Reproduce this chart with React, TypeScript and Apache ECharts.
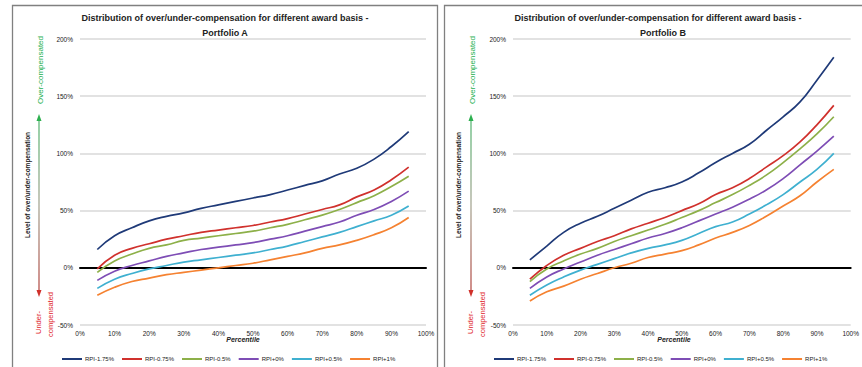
import React, { useEffect, useRef } from "react";
import * as echarts from "echarts";

const percentiles = [5, 10, 15, 20, 25, 30, 35, 40, 45, 50, 55, 60, 65, 70, 75, 80, 85, 90, 95];
const seriesNames = ["RPI-1.75%", "RPI-0.75%", "RPI-0.5%", "RPI+0%", "RPI+0.5%", "RPI+1%"];
const seriesColors = ["#1F3A78", "#D0312D", "#8DB049", "#7E4DB5", "#3FB0D0", "#F58231"];
const xTickValues = [0, 10, 20, 30, 40, 50, 60, 70, 80, 90, 100];
const yTickValues = [-50, 0, 50, 100, 150, 200];

// Portfolio A
const a_rpiM175 = [16, 28, 35, 41, 45, 48, 52, 55, 58, 61, 64, 68, 72, 76, 82, 87, 95, 106, 119];
const a_rpiM075 = [-1, 11, 17, 21, 25, 28, 31, 33, 35, 37, 40, 43, 47, 51, 55, 62, 68, 77, 88];
const a_rpiM05 = [-4, 6, 12, 17, 20, 24, 26, 28, 30, 32, 35, 38, 42, 46, 51, 57, 63, 71, 80];
const a_rpi0 = [-11, -3, 2, 6, 10, 13, 16, 18, 20, 22, 25, 28, 32, 36, 40, 46, 51, 58, 67];
const a_rpiP05 = [-18, -10, -5, -1, 2, 5, 7, 9, 11, 13, 16, 19, 23, 27, 31, 36, 41, 46, 54];
const a_rpiP1 = [-24, -17, -12, -9, -6, -4, -2, 0, 2, 4, 7, 10, 13, 17, 20, 24, 29, 35, 44];

// Portfolio B
const b_rpiM175 = [7, 19, 31, 39, 45, 52, 59, 66, 70, 75, 83, 92, 100, 108, 120, 132, 145, 164, 184];
const b_rpiM075 = [-10, 2, 11, 17, 23, 28, 34, 39, 44, 50, 56, 64, 70, 78, 88, 98, 110, 125, 142];
const b_rpiM05 = [-12, -1, 6, 12, 17, 23, 28, 33, 38, 44, 50, 57, 64, 72, 81, 92, 104, 117, 132];
const b_rpi0 = [-18, -8, -1, 5, 11, 16, 21, 26, 30, 35, 41, 47, 53, 60, 68, 78, 90, 102, 115];
const b_rpiP05 = [-24, -15, -8, -2, 3, 8, 13, 17, 20, 24, 30, 36, 40, 47, 55, 64, 75, 86, 100];
const b_rpiP1 = [-29, -21, -16, -10, -5, 0, 4, 9, 12, 15, 20, 26, 31, 37, 45, 54, 63, 75, 86];

const portfolioA = [a_rpiM175, a_rpiM075, a_rpiM05, a_rpi0, a_rpiP05, a_rpiP1];
const portfolioB = [b_rpiM175, b_rpiM075, b_rpiM05, b_rpi0, b_rpiP05, b_rpiP1];
const titleLine1 = "Distribution of over/under-compensation for different award basis -";
const panelTitles = ["Portfolio A", "Portfolio B"];

const FONT = "'Liberation Sans', Arial, sans-serif";

function textEl(x: number, y: number, text: string, opts: any = {}) {
  const align = opts.align || "center";
  const vAlign = opts.verticalAlign || "middle";
  return {
    type: "text",
    x,
    y,
    rotation: opts.rotation || 0,
    silent: true,
    style: {
      text,
      fill: opts.fill || "#222",
      font: `${opts.fontStyle || "normal"} ${opts.fontWeight || "normal"} ${opts.fontSize || 7}px ${FONT}`,
      align,
      verticalAlign: vAlign,
      textAlign: align,
      textVerticalAlign: vAlign,
    },
  };
}

function panelGraphics(titleCx: number, percCx: number, p: any) {
  const els: any[] = [];
  els.push(textEl(titleCx, 18, titleLine1, { fontWeight: "bold", fontSize: 9 }));
  els.push(textEl(titleCx + p.t2dx, 33, panelTitles[p.idx], { fontWeight: "bold", fontSize: 9 }));
  els.push(textEl(percCx, 339, "Percentile", { fontWeight: "bold", fontStyle: "italic", fontSize: 7 }));
  // y axis name
  els.push(textEl(p.nameX, 185, "Level of over/under-compensation", { fontWeight: "bold", fontSize: 6.5, rotation: Math.PI / 2 }));
  // green over-compensated
  els.push(textEl(p.arrowX + 1, 70, "Over-compensated", { fill: "#1DB04F", fontSize: 8, rotation: Math.PI / 2 }));
  // red under-compensated
  els.push(textEl(p.arrowX - 1, 334, "Under-", { fill: "#E0242A", fontSize: 7.5, rotation: Math.PI / 2, align: "left" }));
  els.push(textEl(p.arrowX + 11, 337, "compensated", { fill: "#E0242A", fontSize: 7.5, rotation: Math.PI / 2, align: "left" }));
  // arrow shaft
  const ax = p.arrowX;
  els.push({
    type: "rect",
    silent: true,
    shape: { x: ax - 0.6, y: 119, width: 1.2, height: 172 },
    style: {
      fill: new echarts.graphic.LinearGradient(ax, 119, ax, 291, [
        { offset: 0, color: "#4CB26A" },
        { offset: 0.5, color: "#A0A08C" },
        { offset: 1, color: "#B0403A" },
      ], true),
    },
  });
  els.push({
    type: "polygon",
    silent: true,
    shape: { points: [[ax - 2.5, 121], [ax + 2.5, 121], [ax, 114]] },
    style: { fill: "#2DB04F" },
  });
  els.push({
    type: "polygon",
    silent: true,
    shape: { points: [[ax - 2.5, 290], [ax + 2.5, 290], [ax, 297]] },
    style: { fill: "#D0302A" },
  });
  return els;
}

export default function App() {
  const ref = useRef<HTMLDivElement>(null);
  useEffect(() => {
    if (!ref.current) return;
    const chart = echarts.init(ref.current, null, { renderer: "svg" });
    const grids = [
      { left: 80, right: 436, top: 39, bottom: 42 },
      { left: 513, right: 4, top: 39, bottom: 42 },
    ];
    const xAxes = grids.map((_, i) => ({
      type: "value",
      gridIndex: i,
      min: xTickValues[0],
      max: xTickValues[xTickValues.length - 1],
      interval: xTickValues[1] - xTickValues[0],
      axisLine: { onZero: true, lineStyle: { color: "#000", width: 2 } },
      axisTick: { show: false },
      splitLine: { show: false },
      axisLabel: { formatter: "{value}%", fontSize: 6.5, margin: 5, color: "#222", fontFamily: FONT },
    }));
    const yAxes = grids.map((_, i) => ({
      type: "value",
      gridIndex: i,
      min: yTickValues[0],
      max: yTickValues[yTickValues.length - 1],
      interval: yTickValues[1] - yTickValues[0],
      axisLine: { show: false },
      axisTick: { show: false },
      splitLine: { show: true, lineStyle: { color: "#D9D9D9", width: 1.5 } },
      axisLabel: { formatter: "{value}%", fontSize: 6.5, margin: 7, color: "#222", fontFamily: FONT },
    }));
    const series: any[] = [];
    [portfolioA, portfolioB].forEach((pf, pi) => {
      pf.forEach((arr, j) => {
        series.push({
          type: "line",
          name: seriesNames[j],
          xAxisIndex: pi,
          yAxisIndex: pi,
          data: percentiles.map((x, k) => [x, arr[k]]),
          smooth: true,
          symbol: "none",
          z: 3,
          lineStyle: { width: 1.7, color: seriesColors[j] },
          itemStyle: { color: seriesColors[j] },
        });
      });
    });
    const legendBase = {
      top: 351,
      icon: "rect",
      itemWidth: 20,
      itemHeight: 2,
      itemGap: 8,
      textStyle: { fontSize: 6, color: "#222", fontFamily: FONT, padding: [0, 0, 0, -2] },
      data: seriesNames,
      selectedMode: false,
    };
    const graphic: any[] = [
      { type: "rect", silent: true, shape: { x: 12.5, y: 5.5, width: 425, height: 400 }, style: { fill: "none", stroke: "#808080", lineWidth: 1.3 } },
      { type: "rect", silent: true, shape: { x: 444.5, y: 5.5, width: 430, height: 400 }, style: { fill: "none", stroke: "#808080", lineWidth: 1.3 } },
      ...panelGraphics(225, 243, { idx: 0, t2dx: 0, nameX: 27, arrowX: 39 }),
      ...panelGraphics(658, 674, { idx: 1, t2dx: 5, nameX: 458, arrowX: 471 }),
    ];
    chart.setOption({
      animation: false,
      backgroundColor: "#fff",
      textStyle: { fontFamily: FONT },
      grid: grids,
      xAxis: xAxes,
      yAxis: yAxes,
      legend: [
        { ...legendBase, left: 57 },
        { ...legendBase, left: 489 },
      ],
      series,
      graphic,
    });
    return () => chart.dispose();
  }, []);
  return <div ref={ref} style={{ position: "absolute", left: 0, top: 0, width: 862, height: 367 }} />;
}
